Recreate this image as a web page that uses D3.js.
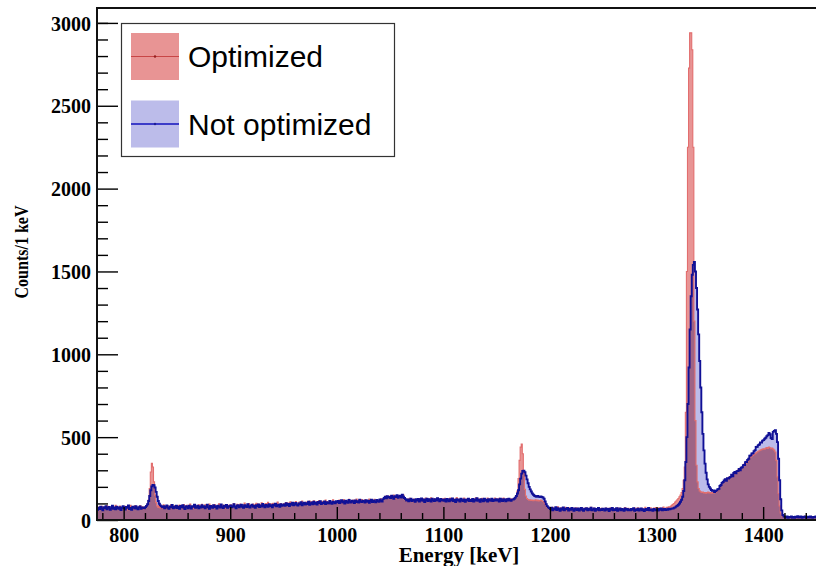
<!DOCTYPE html>
<html>
<head>
<meta charset="utf-8">
<script src="https://cdn.jsdelivr.net/npm/d3@7/dist/d3.min.js"></script>
<style>
  body { margin: 0; background: #fff; }
  svg { display: block; }
</style>
</head>
<body>
<svg id="chart" width="816" height="566"></svg>
<script>

// Histogram binning: 1 keV bins starting at 775 keV
var binStart = 775;
var binWidth = 1;

// Counts/1 keV, optimized setup (red), one value per bin, 775..1450 keV
var optimized = [
  71,64,79,68,83,73,60,76,70,86,66,78,72,63,81,74,69,88,65,77,71,84,62,75,80,
  67,82,74,61,78,71,89,69,76,64,85,73,79,66,72,87,70,80,63,77,78,84,95,120,190,
  290,342,320,230,150,105,85,75,88,72,81,69,92,77,84,70,86,79,74,91,68,83,78,87,73,
  85,73,90,78,82,69,94,80,75,88,71,83,97,76,81,70,89,79,86,74,92,77,84,95,72,
  78,91,74,86,80,96,73,84,89,77,93,81,70,87,98,79,85,76,90,83,72,94,80,88,75,
  92,79,87,100,83,76,95,88,81,97,85,90,78,102,86,80,93,99,84,89,77,96,91,85,101,
  88,97,83,92,104,86,95,80,99,90,107,85,93,98,82,101,89,96,87,109,91,84,100,94,88,
  99,91,106,95,102,88,110,97,93,104,100,112,90,98,107,94,103,115,96,101,92,109,105,98,114,
  103,110,98,116,101,107,112,99,118,105,96,113,108,102,120,104,111,97,115,106,109,122,100,112,107,
  111,104,120,108,115,102,123,110,106,118,113,125,107,116,103,121,112,109,126,105,119,114,108,124,117,
  109,122,115,104,118,127,111,120,106,116,125,113,108,121,117,111,128,119,124,130,137,145,133,142,138,
  147,134,140,151,136,129,144,138,148,131,142,137,150,127,123,114,126,119,131,116,124,110,127,121,118,
  124,117,130,121,113,128,119,125,132,115,122,127,118,134,120,114,129,123,117,131,125,119,126,112,128,
  120,131,115,124,127,118,133,121,114,129,123,117,135,119,126,122,130,116,125,132,118,124,128,115,127,
  123,116,130,125,119,134,121,128,113,126,120,131,117,129,124,118,133,122,127,115,130,121,125,132,119,
  126,119,131,122,128,116,133,124,120,129,127,121,124,128,122,126,130,137,148,175,250,360,440,458,400,
  280,185,145,130,124,120,122,118,121,116,119,122,117,120,115,118,121,116,112,105,96,85,78,74,70,
  70,62,76,66,59,73,65,79,61,68,74,57,71,64,77,60,69,75,63,67,72,58,70,66,74,
  64,71,59,68,75,62,66,57,73,65,61,70,67,76,58,64,72,60,69,63,74,61,67,71,59,
  66,60,72,63,58,70,65,74,61,67,56,69,63,73,60,66,71,59,68,64,75,62,57,70,65,
  61,69,64,57,72,66,60,74,63,68,59,71,65,62,76,67,61,70,64,73,66,60,72,68,75,
  69,63,74,67,71,65,78,70,68,76,72,79,80,84,90,95,100,108,115,122,130,140,150,165,190,
  240,320,650,1500,2250,2727,2940,2940,2838,2250,1200,600,330,230,190,176,170,166,168,163,166,161,165,168,163,
  166,162,168,164,170,167,172,178,186,198,210,225,228,240,236,248,246,255,260,258,271,266,282,279,290,
  296,302,298,312,318,315,330,338,342,356,350,368,376,380,385,390,396,400,405,410,415,418,422,425,428,
  430,428,434,438,432,440,436,430,434,428,422,410,360,260,160,85,42,26,19,17,19,14,20,16,21,
  15,20,13,18,16,21,14,19,17,13,20,15,18,22,14,17,19,13,21,16,15,20,14,18,16,19
];

// Counts/1 keV, not optimized setup (blue)
var notOptimized = [
  62,74,66,80,69,58,77,71,84,65,73,79,62,70,86,68,75,64,81,72,67,78,60,74,83,
  70,63,79,74,88,66,72,61,80,75,69,84,71,64,77,82,68,73,76,70,78,85,95,115,145,
  180,203,211,210,196,170,140,115,98,88,82,76,84,70,79,88,73,67,82,77,91,71,80,74,86,
  72,81,68,85,77,90,74,66,83,79,71,87,76,69,84,80,92,73,78,86,70,82,75,89,77,
  84,71,79,93,76,68,85,80,74,90,78,83,69,87,81,75,94,77,72,86,80,91,74,83,79,
  88,76,82,95,79,71,86,90,77,84,93,80,74,89,83,78,96,81,75,87,92,79,85,73,90,
  83,94,78,88,81,97,85,76,91,86,80,95,84,89,77,92,87,99,82,88,93,79,96,86,90,
  94,86,101,90,97,84,99,92,105,88,96,103,91,87,100,95,108,89,98,104,93,101,97,110,92,
  100,106,95,111,98,104,93,109,102,114,97,105,101,112,96,108,103,99,115,104,98,110,106,101,113,
  107,115,102,111,119,105,113,100,117,109,104,121,110,106,116,112,103,118,109,114,106,122,111,108,117,
  113,106,120,110,117,104,115,123,109,118,112,107,121,114,110,124,116,111,126,133,141,131,144,136,139,
  132,146,137,128,143,139,150,134,141,147,136,152,140,133,126,117,124,113,121,128,115,123,119,110,125,
  118,127,112,122,130,116,124,109,121,128,114,126,119,111,129,120,115,125,117,131,122,113,127,118,123,
  116,124,111,127,119,113,125,118,130,114,121,109,126,117,123,112,128,120,115,124,110,122,118,129,114,
  121,115,127,112,124,118,131,116,122,110,126,119,113,128,117,123,111,125,120,116,129,114,122,118,126,
  117,124,112,128,119,115,126,121,113,125,118,129,120,116,123,124,128,135,145,160,180,215,250,280,296,
  298,288,268,245,222,200,185,172,160,152,146,143,140,145,141,138,142,139,136,128,112,95,84,76,72,
  66,74,58,69,63,77,60,71,65,55,70,62,75,59,68,64,72,57,67,61,73,63,56,69,65,
  60,70,57,65,73,62,55,68,63,71,58,66,61,74,59,64,69,56,67,62,72,58,65,60,68,
  63,57,70,61,66,54,68,62,73,59,65,60,71,56,64,69,58,67,62,55,70,61,66,59,64,
  58,66,61,71,55,64,60,68,57,63,70,59,65,54,62,67,60,72,58,64,61,56,66,63,59,
  64,57,66,61,69,58,63,67,60,65,62,68,64,67,70,69,74,76,82,86,92,100,110,122,140,
  175,240,350,500,700,920,1150,1350,1480,1540,1557,1500,1400,1270,1120,960,800,650,520,420,340,285,245,215,200,
  190,181,176,178,168,175,179,186,188,205,211,224,229,238,246,236,252,250,256,260,274,264,284,290,282,
  295,296,308,300,315,318,331,332,349,350,363,370,388,390,401,403,415,422,441,442,452,456,468,467,479,
  482,490,496,505,512,525,518,495,488,532,538,542,520,470,370,240,125,58,30,21,20,15,21,14,19,
  17,22,14,19,13,20,16,23,15,18,21,14,19,16,22,13,18,20,15,21,17,14,19,16,22,15
];

// Axis ticks and labels
var xMajorTicks = [800, 900, 1000, 1100, 1200, 1300, 1400];
var xMinorTicks = [780, 820, 840, 860, 880, 920, 940, 960, 980, 1020, 1040, 1060, 1080,
                   1120, 1140, 1160, 1180, 1220, 1240, 1260, 1280, 1320, 1340, 1360, 1380, 1420, 1440];
var yMajorTicks = [0, 500, 1000, 1500, 2000, 2500, 3000];
var yMinorTicks = [100, 200, 300, 400, 600, 700, 800, 900, 1100, 1200, 1300, 1400, 1600, 1700,
                   1800, 1900, 2100, 2200, 2300, 2400, 2600, 2700, 2800, 2900, 3000];
var legendLabels = ["Optimized", "Not optimized"];
var xTitle = "Energy [keV]";
var yTitle = "Counts/1 keV";

// Colours
var redFill = "rgb(232,148,148)";
var blueFill = "rgb(188,188,234)";
var bothFill = "rgb(158,100,134)";
var redLine = "rgb(226,110,110)";
var blueLine = "rgb(16,16,150)";

var serif = "'Liberation Serif', 'Times New Roman', serif";
var sans = "'Liberation Sans', Arial, Helvetica, sans-serif";

var svg = d3.select("#chart");

// plot frame in pixels
var frameLeft = 97, frameRight = 817.5, frameTop = 8, frameBottom = 520;
var xEnd = binStart + optimized.length * binWidth;

var x = d3.scaleLinear().domain([binStart, xEnd]).range([frameLeft, frameRight]);
var y = d3.scaleLinear().domain([0, 3090]).range([frameBottom, frameTop]);

svg.append("rect").attr("width", 816).attr("height", 566).attr("fill", "#fff");

svg.append("defs").append("clipPath").attr("id", "plot-clip")
  .append("rect")
  .attr("x", frameLeft).attr("y", frameTop)
  .attr("width", frameRight - frameLeft).attr("height", frameBottom - frameTop);


// Turn a list of bin contents into points for step curves
function binPoints(values) {
  var pts = values.map(function (v, i) { return { e: binStart + i * binWidth, v: v }; });
  pts.push({ e: xEnd, v: values[values.length - 1] });
  return pts;
}

var area = d3.area()
  .curve(d3.curveStepAfter)
  .x(function (d) { return x(d.e); })
  .y0(y(0))
  .y1(function (d) { return y(d.v); });

var line = d3.line()
  .curve(d3.curveStepAfter)
  .x(function (d) { return x(d.e); })
  .y(function (d) { return y(d.v); });

// part common to both histograms (drawn in the mixed colour)
var common = optimized.map(function (v, i) { return Math.min(v, notOptimized[i]); });

var plot = svg.append("g").attr("clip-path", "url(#plot-clip)");

plot.append("path").datum(binPoints(optimized)).attr("d", area).attr("fill", redFill);
plot.append("path").datum(binPoints(notOptimized)).attr("d", area).attr("fill", blueFill);
plot.append("path").datum(binPoints(common)).attr("d", area).attr("fill", bothFill);

plot.append("path").datum(binPoints(optimized)).attr("d", line)
  .attr("fill", "none").attr("stroke", redLine).attr("stroke-width", 1.1);
plot.append("path").datum(binPoints(notOptimized)).attr("d", line)
  .attr("fill", "none").attr("stroke", blueLine).attr("stroke-width", 1.9);


// AXES

function styleAxis(g) {
  g.select(".domain").remove();
  g.selectAll(".tick line").attr("stroke", "#000").attr("stroke-width", 1.4);
  g.selectAll(".tick text")
    .attr("fill", "#000")
    .style("font-family", serif)
    .style("font-weight", "bold")
    .style("font-size", "20px");
}

// y axis, ticks pointing inside
svg.append("g")
  .attr("transform", "translate(" + frameLeft + ",0)")
  .call(d3.axisLeft(y).tickValues(yMinorTicks).tickSizeInner(-11).tickSizeOuter(0).tickFormat(""))
  .call(styleAxis);

svg.append("g")
  .attr("transform", "translate(" + frameLeft + ",0)")
  .call(d3.axisLeft(y).tickValues(yMajorTicks).tickSizeInner(-21).tickSizeOuter(0).tickPadding(6).tickFormat(d3.format("d")))
  .call(styleAxis)
  .selectAll(".tick text").attr("dy", "0.36em");

// x axis, ticks pointing up
svg.append("g")
  .attr("transform", "translate(0," + frameBottom + ")")
  .call(d3.axisBottom(x).tickValues(xMinorTicks).tickSizeInner(-7).tickSizeOuter(0).tickFormat(""))
  .call(styleAxis);

svg.append("g")
  .attr("transform", "translate(0," + frameBottom + ")")
  .call(d3.axisBottom(x).tickValues(xMajorTicks).tickSizeInner(-13).tickSizeOuter(0).tickFormat(d3.format("d")))
  .call(styleAxis)
  .selectAll(".tick text").attr("y", 22).attr("dy", null);

// frame
svg.append("rect")
  .attr("x", frameLeft).attr("y", frameTop)
  .attr("width", frameRight - frameLeft).attr("height", frameBottom - frameTop)
  .attr("fill", "none").attr("stroke", "#111").attr("stroke-width", 2);

// axis titles
svg.append("text")
  .attr("x", 459).attr("y", 562)
  .attr("text-anchor", "middle")
  .style("font-family", serif).style("font-weight", "bold").style("font-size", "21px")
  .text(xTitle);

svg.append("text")
  .attr("transform", "translate(28,252) rotate(-90)")
  .attr("text-anchor", "middle")
  .attr("textLength", 93).attr("lengthAdjust", "spacingAndGlyphs")
  .style("font-family", serif).style("font-weight", "bold").style("font-size", "19px")
  .text(yTitle);


// LEGEND

var legend = svg.append("g");

legend.append("rect")
  .attr("x", 121.5).attr("y", 23.5).attr("width", 273).attr("height", 133)
  .attr("fill", "#fff").attr("stroke", "#333").attr("stroke-width", 1.2);

var legendFills = [redFill, blueFill];
var legendLines = ["rgb(200,70,70)", "rgb(60,60,200)"];

legendLabels.forEach(function (label, i) {
  var cy = 56.5 + i * 67.5;
  legend.append("rect")
    .attr("x", 131).attr("y", cy - 23.5).attr("width", 48).attr("height", 47)
    .attr("fill", legendFills[i]);
  legend.append("line")
    .attr("x1", 131).attr("x2", 179).attr("y1", cy).attr("y2", cy)
    .attr("stroke", legendLines[i]).attr("stroke-width", i == 0 ? 1 : 1.8);
  legend.append("circle")
    .attr("cx", 155).attr("cy", cy).attr("r", 1.2)
    .attr("fill", i == 0 ? "rgb(150,30,30)" : "rgb(30,30,150)");
  legend.append("text")
    .attr("x", 188).attr("y", cy + 10.5)
    .style("font-family", sans).style("font-size", "30px")
    .attr("fill", "#000")
    .text(label);
});

</script>
</body>
</html>
